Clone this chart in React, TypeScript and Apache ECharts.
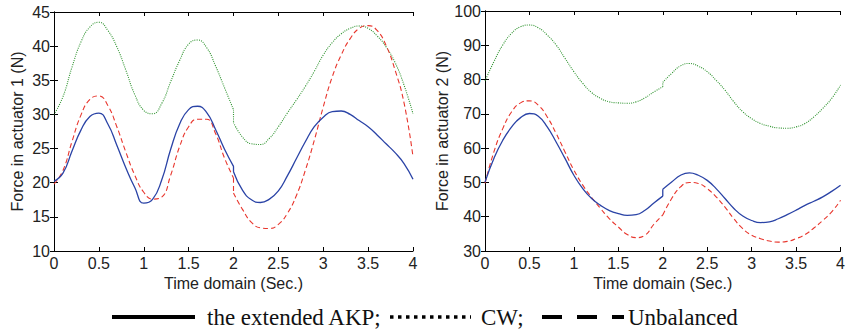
import React, { useEffect, useRef } from "react";
import * as echarts from "echarts";

// time samples (the duplicated 2.0 carries the jump at t = 2 s)
const T = [0, 0.1, 0.2, 0.3, 0.4, 0.5, 0.6, 0.7, 0.8, 0.9, 1.0, 1.1, 1.2, 1.3, 1.4, 1.5, 1.6, 1.7, 1.8, 1.9, 2.0, 2.0, 2.1, 2.2, 2.3, 2.4, 2.5, 2.6, 2.7, 2.8, 2.9, 3.0, 3.1, 3.2, 3.3, 3.4, 3.5, 3.6, 3.7, 3.8, 3.9, 4.0];
const JUMP = 20; // index of the value just before the jump

// actuator 1
const akp1 = [20.2, 21.4, 24.6, 27.7, 29.7, 30.2, 28.6, 25.5, 22.2, 19.3, 17.0, 17.6, 20.4, 24.9, 28.6, 30.7, 31.2, 30.3, 27.8, 24.9, 22.4, 21.6, 18.9, 17.5, 17.1, 17.6, 18.8, 21.0, 23.5, 26.0, 28.2, 29.6, 30.4, 30.5, 30.0, 29.1, 28.2, 27.0, 25.7, 24.4, 22.8, 20.5];
const cw1 = [30.0, 32.6, 36.9, 40.6, 42.8, 43.5, 42.3, 39.9, 36.5, 32.9, 30.6, 30.1, 31.6, 34.8, 37.9, 40.3, 40.9, 39.8, 37.1, 33.9, 30.7, 28.8, 26.7, 25.7, 25.6, 26.5, 28.2, 30.2, 32.1, 34.1, 36.3, 38.7, 40.5, 41.8, 42.6, 42.95, 42.6, 41.5, 39.9, 37.6, 34.3, 30.1];
const unb1 = [19.8, 21.8, 26.0, 29.9, 32.2, 32.7, 31.3, 28.2, 24.5, 21.1, 18.6, 17.6, 17.9, 21.1, 25.3, 28.2, 29.3, 29.3, 27.2, 23.6, 20.7, 18.5, 16.1, 14.2, 13.4, 13.3, 13.9, 15.5, 18.1, 21.8, 26.2, 31.1, 35.5, 38.7, 41.1, 42.6, 43.0, 42.3, 40.1, 36.5, 31.7, 23.8];

// actuator 2
const akp2 = [50.1, 57.0, 62.3, 66.2, 68.9, 70.1, 69.3, 66.2, 61.8, 57.0, 52.1, 48.2, 45.3, 43.3, 41.8, 40.9, 40.4, 40.6, 41.9, 44.0, 46.0, 48.0, 50.1, 52.1, 52.8, 52.1, 50.6, 48.2, 45.3, 42.4, 40.2, 38.9, 38.3, 38.5, 39.4, 40.6, 41.9, 43.3, 44.5, 45.8, 47.4, 49.2];
const cw2 = [79.6, 85.2, 90.1, 93.5, 95.4, 95.9, 95.1, 93.0, 90.1, 86.2, 82.3, 78.9, 76.2, 74.5, 73.5, 73.2, 73.1, 73.5, 74.7, 76.4, 77.9, 79.2, 81.8, 84.0, 84.7, 83.9, 82.3, 79.8, 76.9, 73.5, 70.6, 68.6, 67.2, 66.4, 65.9, 65.8, 66.2, 67.2, 69.1, 71.6, 74.5, 78.4];
const unb2 = [49.7, 58.9, 65.7, 70.6, 73.2, 73.8, 72.5, 69.1, 64.3, 58.9, 53.6, 49.2, 45.6, 42.4, 39.4, 37.0, 34.8, 33.9, 34.6, 37.8, 40.5, 40.5, 45.3, 48.7, 50.0, 49.7, 48.2, 45.8, 42.8, 39.4, 36.5, 34.6, 33.6, 32.9, 32.6, 32.8, 33.6, 34.8, 36.7, 38.9, 41.4, 44.8];

const xTitle = "Time domain (Sec.)";
const yTitles = ["Force in actuator 1 (N)", "Force in actuator 2 (N)"];
const legendNames = ["the extended AKP;", "CW;", "Unbalanced"];

// build [t, value] pairs; the curve is broken at the jump so that smoothing
// stays on each side, and the jump itself is a straight vertical piece
const build = (ys: number[]) => {
  const pts: any[] = [];
  for (let i = 0; i <= JUMP; i++) pts.push([T[i], ys[i]]);
  pts.push(null);
  pts.push([T[JUMP], ys[JUMP]]);
  pts.push([T[JUMP + 1], ys[JUMP + 1]]);
  pts.push(null);
  for (let i = JUMP + 1; i < T.length; i++) pts.push([T[i], ys[i]]);
  return pts;
};

const FONT = "Liberation Sans";
const BLUE = "#2a43a6";
const RED = "#e8362d";
const GREEN = "#2e932e";

export default function App() {
  const ref = useRef<HTMLDivElement>(null);
  useEffect(() => {
    document.body.style.margin = "0";
    const chart = echarts.init(ref.current!, null, { renderer: "svg" });
    const grids = [
      { left: 54, top: 12, width: 359, height: 239 },
      { left: 485, top: 11, width: 362, height: 240 },
    ];
    const yRanges = [
      { min: 10, max: 45, interval: 5 },
      { min: 30, max: 100, interval: 10 },
    ];
    const nameGaps = [29, 34];
    const axisLine = { show: true, lineStyle: { color: "#000", width: 1 } };
    const tick = { show: true, inside: true, length: 4, lineStyle: { color: "#000" } };
    const lbl = { color: "#222", fontFamily: FONT, fontSize: 16 };
    const xAxis: any[] = [];
    const yAxis: any[] = [];
    grids.forEach((_, g) => {
      xAxis.push({
        type: "value", gridIndex: g, min: 0, max: 4, interval: 0.5, position: "bottom",
        axisLine, axisTick: tick, splitLine: { show: false },
        axisLabel: { ...lbl, margin: 4, showMaxLabel: true, showMinLabel: true },
        name: xTitle, nameLocation: "middle", nameGap: 24,
        nameTextStyle: { color: "#222", fontFamily: FONT, fontSize: 16 },
      });
      xAxis.push({
        type: "value", gridIndex: g, min: 0, max: 4, interval: 0.5, position: "top",
        axisLine, axisTick: tick, splitLine: { show: false }, axisLabel: { show: false },
      });
      yAxis.push({
        type: "value", gridIndex: g, ...yRanges[g], position: "left",
        axisLine, axisTick: tick, splitLine: { show: false },
        axisLabel: { ...lbl, margin: 4 },
        name: yTitles[g], nameLocation: "middle", nameGap: nameGaps[g],
        nameTextStyle: { color: "#222", fontFamily: FONT, fontSize: 16 },
      });
      yAxis.push({
        type: "value", gridIndex: g, ...yRanges[g], position: "right",
        axisLine, axisTick: tick, splitLine: { show: false }, axisLabel: { show: false },
      });
    });
    const mk = (data: number[], g: number, color: string, type: any, width: number) => ({
      type: "line",
      xAxisIndex: g * 2,
      yAxisIndex: g * 2,
      data: build(data),
      connectNulls: false,
      showSymbol: false,
      smooth: 0.5,
      lineStyle: { color, type, width },
      z: 3,
    });
    const series = [
      mk(cw1, 0, GREEN, [1, 1.2], 1.1),
      mk(unb1, 0, RED, [5, 3], 1.1),
      mk(akp1, 0, BLUE, "solid", 1.3),
      mk(cw2, 1, GREEN, [1, 1.2], 1.1),
      mk(unb2, 1, RED, [5, 3], 1.1),
      mk(akp2, 1, BLUE, "solid", 1.3),
    ];
    const ly = 317;
    const tStyle = { fill: "#111", font: "23px 'Liberation Serif'", textVerticalAlign: "middle" };
    const graphic = [
      { type: "line", shape: { x1: 112, y1: ly, x2: 195, y2: ly }, style: { stroke: "#000", lineWidth: 4 } },
      { type: "text", x: 207, y: ly, style: { ...tStyle, text: legendNames[0] } },
      { type: "line", shape: { x1: 390, y1: ly, x2: 471, y2: ly }, style: { stroke: "#000", lineWidth: 3.5, lineDash: [3.5, 4.5] } },
      { type: "text", x: 481, y: ly, style: { ...tStyle, text: legendNames[1] } },
      { type: "line", shape: { x1: 542, y1: ly, x2: 624, y2: ly }, style: { stroke: "#000", lineWidth: 4, lineDash: [20, 15] } },
      { type: "text", x: 628, y: ly, style: { ...tStyle, text: legendNames[2] } },
    ];
    chart.setOption({
      animation: false,
      backgroundColor: "#fff",
      grid: grids,
      xAxis,
      yAxis,
      series,
      graphic,
    });
    return () => chart.dispose();
  }, []);
  return <div ref={ref} style={{ position: "fixed", left: 0, top: 0, width: 848, height: 331 }} />;
}
